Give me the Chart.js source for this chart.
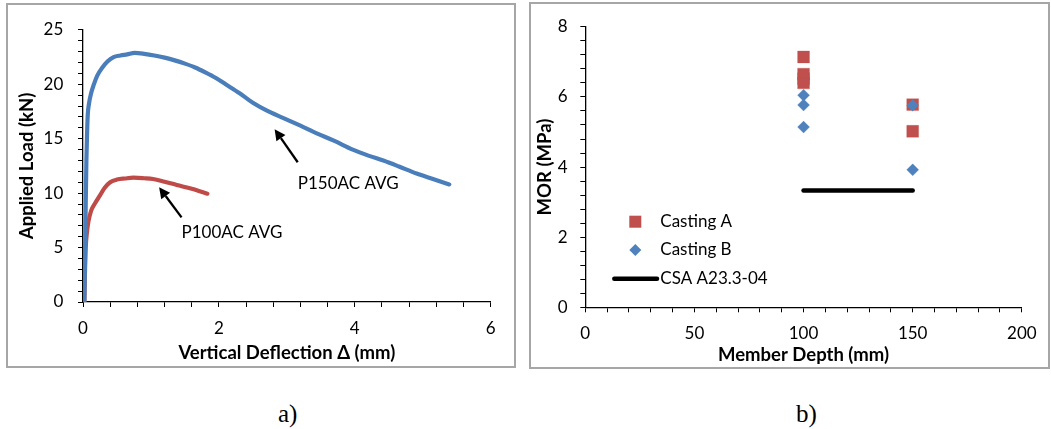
<!DOCTYPE html>
<html><head><meta charset="utf-8">
<script src="https://cdn.jsdelivr.net/npm/chart.js@4.4.1/dist/chart.umd.min.js"></script>
<style>
html,body{margin:0;padding:0;background:#fff;width:1051px;height:429px;overflow:hidden;position:relative}
.panel{position:absolute;box-sizing:border-box;border:2px solid #a6a6a6;background:#fff}
canvas{position:absolute}
.cap{position:absolute;font-family:"Liberation Serif","DejaVu Serif",serif;font-size:25px;line-height:25px;color:#000;white-space:nowrap}
</style></head><body>
<div class="panel" style="left:6px;top:3px;width:510px;height:365px"></div>
<div class="panel" style="left:529px;top:2px;width:521px;height:367px"></div>
<canvas id="ca" width="506" height="361" style="left:8px;top:5px;width:506px;height:361px"></canvas>
<canvas id="cb" width="517" height="363" style="left:531px;top:4px;width:517px;height:363px"></canvas>
<div class="cap" style="left:278px;top:401px">a)</div>
<div class="cap" style="left:796px;top:401px">b)</div>
<script>
// ---------- Panel a data ----------
const p150X = [0.02, 0.03, 0.04, 0.05, 0.06, 0.07, 0.09, 0.12, 0.16, 0.21, 0.28, 0.36, 0.45, 0.55, 0.65, 0.76, 0.90, 1.05, 1.20, 1.35, 1.50, 1.65, 1.80, 1.95, 2.10, 2.30, 2.50, 2.70, 2.95, 3.20, 3.44, 3.70, 3.97, 4.20, 4.42, 4.65, 4.91, 5.15, 5.39];
const p150Y = [0, 4, 9, 13, 15.5, 17.2, 18.3, 19.2, 20.0, 20.8, 21.5, 22.1, 22.5, 22.65, 22.75, 22.88, 22.8, 22.65, 22.45, 22.2, 21.9, 21.55, 21.1, 20.6, 20.0, 19.2, 18.3, 17.6, 16.9, 16.2, 15.5, 14.8, 14.0, 13.45, 13.0, 12.45, 11.8, 11.3, 10.8];
const p100X = [0.02, 0.03, 0.04, 0.06, 0.08, 0.12, 0.18, 0.25, 0.32, 0.40, 0.50, 0.62, 0.74, 0.90, 1.03, 1.20, 1.38, 1.60, 1.83];
const p100Y = [0, 3, 5, 6.5, 7.4, 8.4, 9.1, 9.8, 10.5, 11.0, 11.25, 11.35, 11.42, 11.37, 11.3, 11.05, 10.75, 10.4, 9.95];
const seriesANames = ['P150AC AVG', 'P100AC AVG'];
// annotation anchors in data units: label position, arrow tail, arrow head
const noteLabelX = [3.16, 1.45];
const noteLabelY = [10.9, 6.43];
const arrowTailX = [3.16, 1.45];
const arrowTailY = [12.84, 7.77];
const arrowHeadX = [2.82, 1.12];
const arrowHeadY = [15.88, 10.55];

// ---------- Panel b data ----------
const castAX = [100, 100, 100, 100, 150, 150];
const castAY = [7.14, 6.65, 6.52, 6.40, 5.78, 5.02];
const castBX = [100, 100, 100, 150, 150];
const castBY = [6.05, 5.77, 5.14, 5.76, 3.92];
const csaX = [100, 150];
const csaY = [3.33, 3.33];
const seriesBNames = ['Casting A', 'Casting B', 'CSA A23.3-04'];

const pts = (xs, ys) => xs.map((x, i) => ({x, y: ys[i]}));

const FONT = 'Lato, Carlito, "Open Sans", sans-serif';
const BLUE = '#4A7EBB', RED = '#BE4B48';
const TITLE_FONT = {family: FONT, size: 18.5, weight: 'bold'};
const TICK_FONT = {family: FONT, size: 17};

function axisGrid() {
  return {display: true, drawOnChartArea: false, drawTicks: true, tickLength: 5, color: '#000', tickColor: '#000', lineWidth: 1, tickWidth: 1};
}

// ---------- Chart a ----------
const annotPlugin = {
  id: 'annot',
  afterDatasetsDraw(chart) {
    const {ctx, scales: {x, y}} = chart;
    ctx.save();
    ctx.fillStyle = '#000'; ctx.strokeStyle = '#000';
    ctx.font = '17px ' + FONT;
    ctx.textBaseline = 'middle'; ctx.textAlign = 'left';
    for (let i = 0; i < seriesANames.length; i++) {
      ctx.fillText(seriesANames[i], x.getPixelForValue(noteLabelX[i]), y.getPixelForValue(noteLabelY[i]));
      const x1 = x.getPixelForValue(arrowTailX[i]), y1 = y.getPixelForValue(arrowTailY[i]);
      const x2 = x.getPixelForValue(arrowHeadX[i]), y2 = y.getPixelForValue(arrowHeadY[i]);
      const ang = Math.atan2(y2 - y1, x2 - x1), hl = 11, hw = 5.5;
      const bx = x2 - hl * Math.cos(ang), by = y2 - hl * Math.sin(ang);
      ctx.beginPath(); ctx.lineWidth = 2.3; ctx.moveTo(x1, y1); ctx.lineTo(bx, by); ctx.stroke();
      ctx.beginPath(); ctx.moveTo(x2, y2);
      ctx.lineTo(bx + hw * Math.sin(ang), by - hw * Math.cos(ang));
      ctx.lineTo(bx - hw * Math.sin(ang), by + hw * Math.cos(ang));
      ctx.closePath(); ctx.fill();
    }
    ctx.restore();
  }
};

const lineStyle = c => ({showLine: true, borderColor: c, backgroundColor: c, borderWidth: 4.2, pointRadius: 0, cubicInterpolationMode: 'monotone', borderCapStyle: 'round', borderJoinStyle: 'round'});

new Chart(document.getElementById('ca'), {
  type: 'scatter',
  data: {datasets: [
    Object.assign({label: seriesANames[0], data: pts(p150X, p150Y)}, lineStyle(BLUE)),
    Object.assign({label: seriesANames[1], data: pts(p100X, p100Y)}, lineStyle(RED))
  ]},
  options: {
    responsive: false, animation: false, devicePixelRatio: 1,
    layout: {padding: {left: 0, top: 17.3, right: 23.3, bottom: 0}},
    plugins: {legend: {display: false}, tooltip: {enabled: false}},
    scales: {
      x: {type: 'linear', min: 0, max: 6,
        afterFit: s => { s.height = 64; },
        grid: axisGrid(), border: {display: true, color: '#000', width: 1.3},
        ticks: {stepSize: 0.4, autoSkip: false, maxRotation: 0, padding: 11.8, color: '#000', font: TICK_FONT,
          callback: v => (Math.round(v * 10) % 20 === 0 ? String(Math.round(v)) : '')},
        title: {display: true, text: 'Vertical Deflection Δ (mm)', color: '#000', font: TITLE_FONT, padding: {top: 0, bottom: 1.9}}
      },
      y: {type: 'linear', min: 0, max: 25,
        afterFit: s => { s.width = 75; },
        grid: axisGrid(), border: {display: true, color: '#000', width: 1.3},
        ticks: {stepSize: 1, autoSkip: false, padding: 14.7, color: '#000', font: TICK_FONT,
          callback: v => (Math.round(v) % 5 === 0 ? String(Math.round(v)) : '')},
        title: {display: true, text: 'Applied Load (kN)', color: '#000', font: TITLE_FONT, padding: {top: 7.9, bottom: 0}}
      }
    }
  },
  plugins: [annotPlugin]
});

// ---------- Chart b ----------
const legendPlugin = {
  id: 'legendB',
  afterDraw(chart) {
    const {ctx} = chart;
    const ds = chart.data.datasets;
    ctx.save();
    ctx.font = '17px ' + FONT; ctx.textBaseline = 'middle'; ctx.textAlign = 'left'; ctx.fillStyle = '#000';
    const mx = 104.3, tx = 129.3, rows = [217.7, 246, 274.7];
    ctx.fillStyle = ds[0].backgroundColor; ctx.fillRect(mx - 6, rows[0] - 6, 12, 12);
    ctx.fillStyle = ds[1].backgroundColor; ctx.beginPath();
    ctx.moveTo(mx, rows[1] - 6); ctx.lineTo(mx + 6, rows[1]); ctx.lineTo(mx, rows[1] + 6); ctx.lineTo(mx - 6, rows[1]); ctx.closePath(); ctx.fill();
    ctx.strokeStyle = ds[2].borderColor; ctx.lineWidth = ds[2].borderWidth; ctx.lineCap = 'round';
    ctx.beginPath(); ctx.moveTo(83.3, rows[2]); ctx.lineTo(126, rows[2]); ctx.stroke();
    ctx.fillStyle = '#000';
    for (let i = 0; i < seriesBNames.length; i++) ctx.fillText(ds[i].label, tx, rows[i]);
    ctx.restore();
  }
};

new Chart(document.getElementById('cb'), {
  type: 'scatter',
  data: {datasets: [
    {label: seriesBNames[0], data: pts(castAX, castAY), pointStyle: 'rect', pointRadius: 8.4, pointHoverRadius: 8.4, backgroundColor: '#C0504D', borderColor: 'rgba(192,80,77,0.6)', borderWidth: 0.5, order: 1},
    {label: seriesBNames[1], data: pts(castBX, castBY), pointStyle: 'rectRot', pointRadius: 6, pointHoverRadius: 6, backgroundColor: '#4F81BD', borderColor: 'rgba(79,129,189,0.6)', borderWidth: 0.5, order: 0},
    {label: seriesBNames[2], data: pts(csaX, csaY), showLine: true, pointRadius: 0, borderColor: '#000', backgroundColor: '#000', borderWidth: 4.5, borderCapStyle: 'round', order: 2}
  ]},
  options: {
    responsive: false, animation: false, devicePixelRatio: 1,
    layout: {padding: {left: 0, top: 16, right: 23.7, bottom: 0}},
    plugins: {legend: {display: false}, tooltip: {enabled: false}},
    scales: {
      x: {type: 'linear', min: 0, max: 200,
        afterFit: s => { s.height = 59.7; },
        grid: axisGrid(), border: {display: true, color: '#000', width: 1.3},
        ticks: {stepSize: 10, autoSkip: false, maxRotation: 0, padding: 11.4, color: '#000', font: TICK_FONT,
          callback: v => (Math.round(v) % 50 === 0 ? String(Math.round(v)) : '')},
        title: {display: true, text: 'Member Depth (mm)', color: '#000', font: TITLE_FONT, padding: {top: 0, bottom: 0.9}}
      },
      y: {type: 'linear', min: 0, max: 8,
        afterFit: s => { s.width = 54.3; },
        grid: axisGrid(), border: {display: true, color: '#000', width: 1.3},
        ticks: {stepSize: 0.4, autoSkip: false, padding: 12.6, color: '#000', font: TICK_FONT,
          callback: v => (Math.round(v * 10) % 20 === 0 ? String(Math.round(v)) : '')},
        title: {display: true, text: 'MOR (MPa)', color: '#000', font: TITLE_FONT, padding: {top: 3.2, bottom: 0}}
      }
    }
  },
  plugins: [legendPlugin]
});
</script>
</body></html>
